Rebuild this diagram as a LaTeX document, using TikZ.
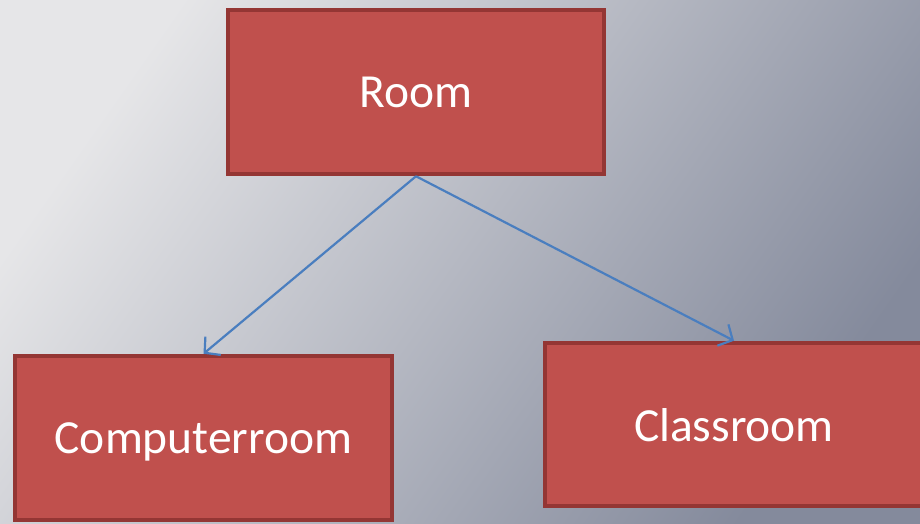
\documentclass[tikz,border=0pt]{standalone}
\usepackage{fontspec}
\setmainfont{Carlito}
\usetikzlibrary{arrows.meta}
\definecolor{boxfill}{HTML}{C0504D}
\definecolor{boxline}{HTML}{943634}
\definecolor{linkblue}{HTML}{4A7EBF}
\definecolor{bglight}{HTML}{E6E6E8}
\definecolor{bgmid}{HTML}{A8ADB9}
\definecolor{bgdark}{HTML}{848A9C}
\tikzset{
  classbox/.style={rectangle, draw=boxline, fill=boxfill, line width=4.5pt,
    inner sep=0pt, text depth=0pt, text=white, font=\fontsize{47.5}{56}\selectfont},
  link/.style={draw=linkblue, line width=2.2pt,
    -{Straight Barb[length=11pt,width=24pt,line width=2.2pt]}}
}
\begin{document}
\begin{tikzpicture}[x=1pt,y=-1pt]
  \useasboundingbox (0,0) rectangle (920,523);
  \clip (0,0) rectangle (920,523);
  % background
  \shade[top color=bglight, middle color=bgmid, bottom color=bgdark, shading angle=55]
    (0,0) rectangle (920,523);
  % class boxes
  \node[classbox, minimum width=376pt, minimum height=164pt] (room) at (416,92) {Room};
  \node[classbox, minimum width=377pt, minimum height=164pt] (comp) at (203.5,438) {Computerroom};
  \node[classbox, minimum width=378pt, minimum height=163pt] (class) at (734,424.5) {Classroom};
  % inheritance links
  \draw[link] (room.south) -- (comp.north);
  \draw[link] (room.south) -- (class.north);
\end{tikzpicture}
\end{document}
